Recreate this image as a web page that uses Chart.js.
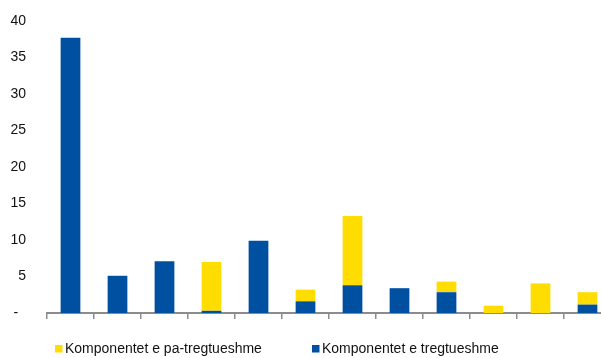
<!DOCTYPE html>
<html>
<head>
<meta charset="utf-8">
<script src="https://cdn.jsdelivr.net/npm/chart.js@4"></script>
<style>
  html, body { margin: 0; padding: 0; background: #fff; }
  #wrap { width: 601px; height: 358px; overflow: hidden; position: relative; }
  #box { width: 615px; height: 358px; }
</style>
</head>
<body>
<div id="wrap"><div id="box"><canvas id="myChart"></canvas></div></div>
<script>
let categories = ['1', '2', '3', '4', '5', '6', '7', '8', '9', '10', '11', '12'];
let tradable = [37.7, 5.1, 7.1, 0.3, 9.9, 1.6, 3.8, 3.4, 2.85, 0, 0, 1.15];
let nonTradable = [0, 0, 0, 6.7, 0, 1.6, 9.5, 0, 1.45, 1.0, 4.05, 1.7];
let yTicks = [0, 5, 10, 15, 20, 25, 30, 35, 40];

let blue = '#0050A2';
let yellow = '#FFDD00';

// legend drawn by hand so the two items sit where they should
let bottomLegend = {
  id: 'bottomLegend',
  afterDraw(chart) {
    let ctx = chart.ctx;
    let items = [
      { text: 'Komponentet e pa-tregtueshme', color: yellow, x: 55 },
      { text: 'Komponentet e tregtueshme', color: blue, x: 312 }
    ];
    ctx.save();
    ctx.font = '14px "Liberation Sans", Arial, sans-serif';
    ctx.textBaseline = 'middle';
    items.forEach(function (it) {
      ctx.fillStyle = it.color;
      ctx.fillRect(it.x, 345, 7.5, 7.5);
      ctx.fillStyle = '#111';
      ctx.fillText(it.text, it.x + 10, 349);
    });
    ctx.restore();
  }
};

window.onload = function () {
  let ctx = document.getElementById('myChart').getContext('2d');

  window.myChart = new Chart(ctx, {
    type: 'bar',
    data: {
      labels: categories,
      datasets: [
        { label: 'Komponentet e tregtueshme', data: tradable, backgroundColor: blue },
        { label: 'Komponentet e pa-tregtueshme', data: nonTradable, backgroundColor: yellow }
      ]
    },
    options: {
      responsive: true,
      maintainAspectRatio: false,
      animation: false,
      layout: { padding: { top: 21, right: 4, bottom: 39, left: 0 } },
      datasets: { bar: { barPercentage: 0.42, categoryPercentage: 1, borderWidth: 0 } },
      plugins: { legend: { display: false }, tooltip: { enabled: false } },
      scales: {
        x: {
          stacked: true,
          offset: true,
          ticks: { display: false },
          grid: { offset: true, drawOnChartArea: false, drawTicks: true, tickLength: 6, color: '#8c8c8c', lineWidth: 1.5 },
          border: { display: true, color: '#8c8c8c', width: 2 }
        },
        y: {
          stacked: true,
          min: 0,
          max: 40,
          afterFit: function (scale) {
            scale.width = 47;
            scale.paddingTop = 0;
            scale.paddingBottom = 0;
          },
          afterBuildTicks: function (scale) {
            scale.ticks = yTicks.map(function (v) { return { value: v }; });
          },
          ticks: {
            padding: 21,
            color: '#111',
            font: { family: '"Liberation Sans", Arial, sans-serif', size: 14 },
            callback: function (v) { return v === 0 ? '-  ' : v; }
          },
          grid: { display: false, drawTicks: false },
          border: { display: false }
        }
      }
    },
    plugins: [bottomLegend]
  });
};
</script>
</body>
</html>
